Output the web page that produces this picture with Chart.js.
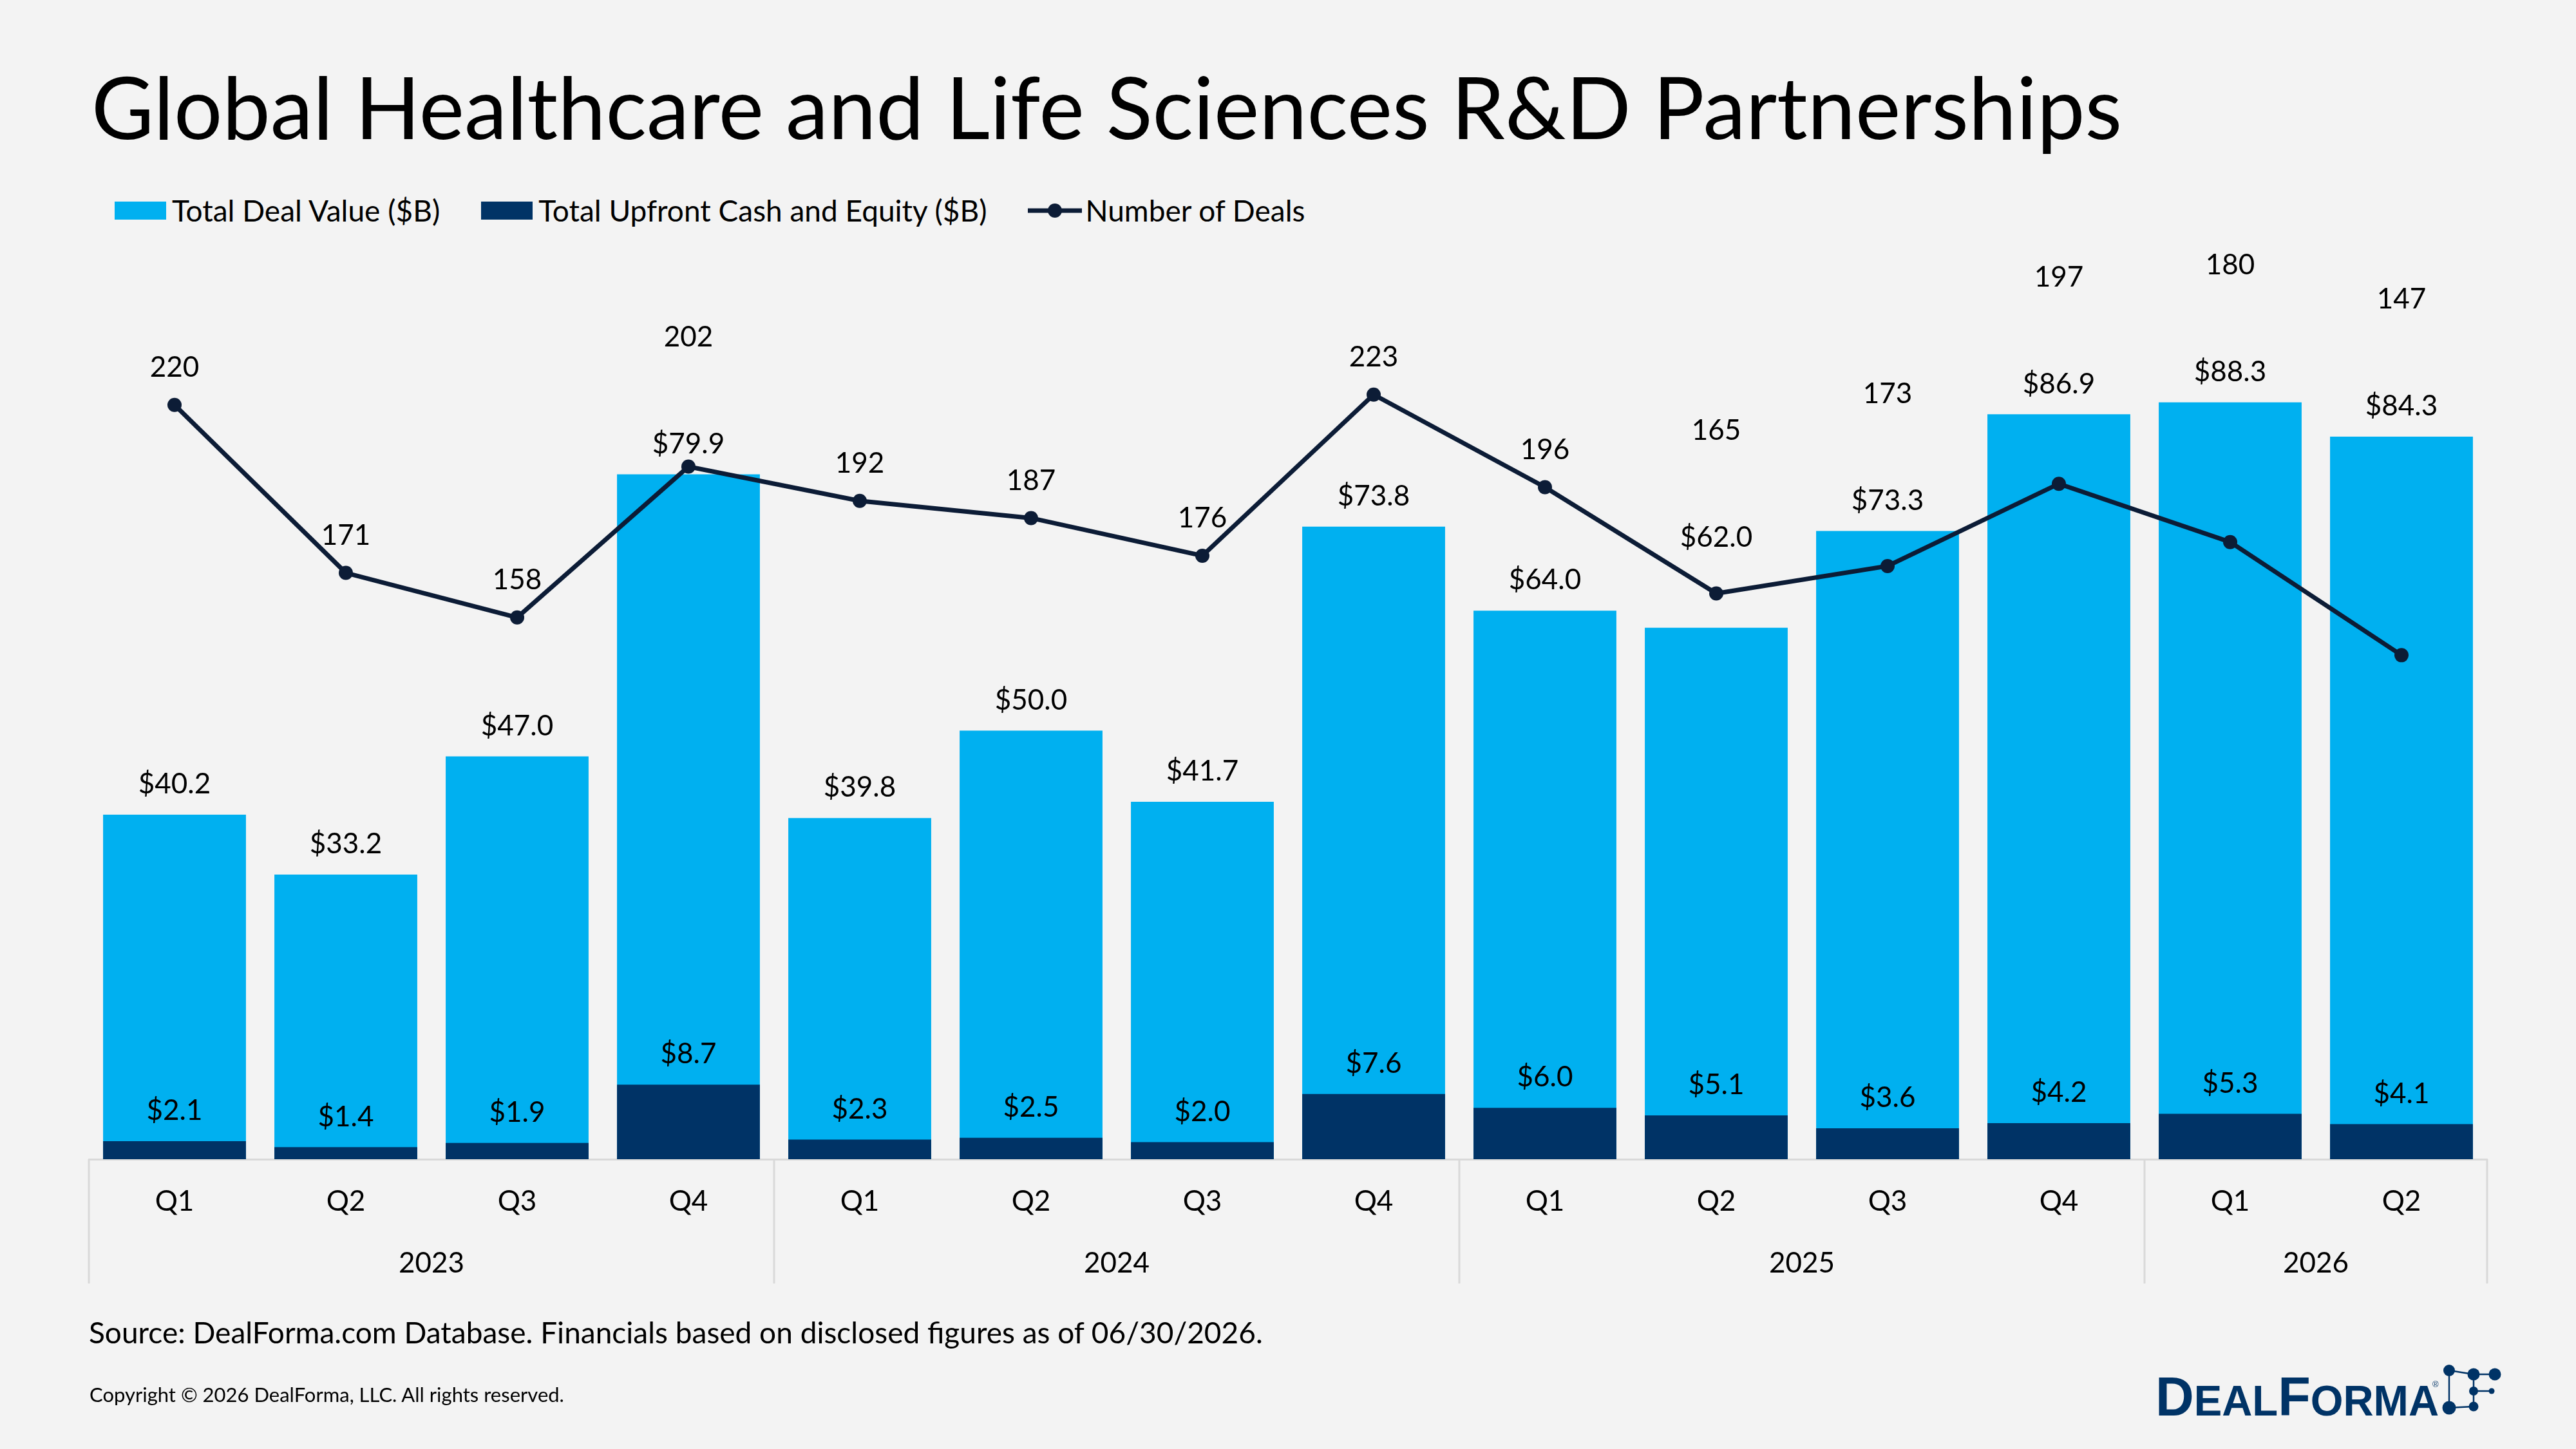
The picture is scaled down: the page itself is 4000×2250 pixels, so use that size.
<!DOCTYPE html>
<html>
<head>
<meta charset="utf-8">
<script src="https://cdn.jsdelivr.net/npm/chart.js@4.4.1/dist/chart.umd.min.js"></script>
<style>
    body{
        margin:0;
        background:#F3F3F3;
        font-family:Lato, "Open Sans", sans-serif;
        color:#000;
    }
    #wrap{
        position:relative;
        width:4000px;
        height:2250px;
        overflow:hidden;
    }
    #chart{
        position:absolute;
        left:0;
        top:0;
    }
    #title{
        position:absolute;
        left:142px;
        top:98px;
        font-size:133px;
        line-height:133px;
        white-space:nowrap;
    }
    #legend{
        position:absolute;
        left:178px;
        top:304px;
        height:46px;
        display:flex;
        align-items:center;
        font-size:46px;
        line-height:46px;
        white-space:nowrap;
    }
    .item{
        display:flex;
        align-items:center;
        margin-right:64px;
    }
    .swatch{
        width:80px;
        height:28px;
        margin-right:9px;
    }
    #source{
        position:absolute;
        left:138px;
        top:2046px;
        font-size:46px;
        line-height:46px;
        white-space:nowrap;
    }
    #copyright{
        position:absolute;
        left:139px;
        top:2150px;
        font-size:31px;
        line-height:31px;
        white-space:nowrap;
    }
    #logo{
        position:absolute;
        left:3330px;
        top:2090px;
    }
</style>
</head>
<body>
<div id="wrap">
    <div id="title">Global Healthcare and Life Sciences R&amp;D Partnerships</div>
    <div id="legend"></div>
    <canvas id="chart" width="4000" height="2250"></canvas>
    <div id="source">Source: DealForma.com Database. Financials based on disclosed figures as of 06/30/2026.</div>
    <div id="copyright">Copyright © 2026 DealForma, LLC. All rights reserved.</div>
    <svg id="logo" width="570" height="130" viewBox="0 0 570 130">
        <text x="17" y="108" fill="#003366" font-family="Liberation Sans, Arial, sans-serif" font-weight="bold" textLength="440" lengthAdjust="spacingAndGlyphs"><tspan font-size="85">D</tspan><tspan font-size="67">EAL</tspan><tspan font-size="85">F</tspan><tspan font-size="67">ORMA</tspan></text>
        <text x="447" y="64" fill="#003366" font-family="Liberation Sans, Arial, sans-serif" font-size="13">®</text>
        <g stroke="#003366" stroke-width="2.5">
            <line x1="473" y1="38" x2="511" y2="44"/>
            <line x1="511" y1="44" x2="544" y2="44"/>
            <line x1="473" y1="38" x2="473" y2="96"/>
            <line x1="511" y1="44" x2="511" y2="94"/>
            <line x1="511" y1="70" x2="539" y2="70"/>
            <line x1="473" y1="96" x2="511" y2="94"/>
        </g>
        <g fill="#003366">
            <circle cx="473" cy="38" r="9"/>
            <circle cx="511" cy="44" r="9.5"/>
            <circle cx="544" cy="44" r="9.5"/>
            <circle cx="511" cy="70" r="7"/>
            <circle cx="539" cy="70" r="4.5"/>
            <circle cx="473" cy="96" r="10.5"/>
            <circle cx="511" cy="94" r="7.5"/>
        </g>
    </svg>
</div>

<script>
// =============================
// DATA
// =============================

const quarterLabels = ["Q1", "Q2", "Q3", "Q4", "Q1", "Q2", "Q3", "Q4", "Q1", "Q2", "Q3", "Q4", "Q1", "Q2"]
const yearLabels = ["2023", "2023", "2023", "2023", "2024", "2024", "2024", "2024", "2025", "2025", "2025", "2025", "2026", "2026"]

// $B
const totalDealValue = [40.2, 33.2, 47.0, 79.9, 39.8, 50.0, 41.7, 73.8, 64.0, 62.0, 73.3, 86.9, 88.3, 84.3]
const upfrontCash = [2.1, 1.4, 1.9, 8.7, 2.3, 2.5, 2.0, 7.6, 6.0, 5.1, 3.6, 4.2, 5.3, 4.1]

const numberOfDeals = [220, 171, 158, 202, 192, 187, 176, 223, 196, 165, 173, 197, 180, 147]

const LIGHT_BLUE = "#00B0F0"
const NAVY = "#003366"
const LINE_COLOR = "#0C1C36"
const LABEL_FONT = "44px Lato, 'Open Sans', sans-serif"


// =============================
// PLUGIN: VALUE LABELS
// =============================

// Bar labels sit above each bar; the deal count sits above its point,
// and is lifted over the bar label when the two would collide.
const valueLabels = {
    id: "valueLabels",
    afterDatasetsDraw(chart){

        const ctx = chart.ctx
        const totalMeta = chart.getDatasetMeta(0)
        const upMeta = chart.getDatasetMeta(1)
        const lineMeta = chart.getDatasetMeta(2)

        ctx.save()
        ctx.font = LABEL_FONT
        ctx.fillStyle = "#000"
        ctx.textAlign = "center"
        ctx.textBaseline = "middle"

        totalMeta.data.forEach((bar, i) => {

            const point = lineMeta.data[i]
            const up = upMeta.data[i]

            let barY = bar.y - 47
            if(Math.abs(barY - point.y) < 30){
                barY = point.y - 87
            }

            let dealY = point.y - 58
            if(dealY > barY - 75){
                dealY = barY - 166
            }

            ctx.fillText("$" + totalDealValue[i].toFixed(1), bar.x, barY)
            ctx.fillText("$" + upfrontCash[i].toFixed(1), up.x, up.y - 47)
            ctx.fillText(String(numberOfDeals[i]), point.x, dealY)
        })

        ctx.restore()
    }
}


// =============================
// PLUGIN: YEAR GROUPS UNDER THE AXIS
// =============================

const yearGroups = {
    id: "yearGroups",
    afterDraw(chart){

        const ctx = chart.ctx
        const x = chart.scales.x
        const top = x.top

        // group consecutive quarters of the same year
        const groups = []
        yearLabels.forEach((year, i) => {
            const last = groups[groups.length - 1]
            if(last && last.year === year){
                last.end = i
            }else{
                groups.push({year: year, start: i, end: i})
            }
        })

        ctx.save()
        ctx.strokeStyle = "#D9D9D9"
        ctx.lineWidth = 3
        ctx.font = LABEL_FONT
        ctx.fillStyle = "#000"
        ctx.textAlign = "center"
        ctx.textBaseline = "middle"

        groups.forEach((g, n) => {

            const left = x.getPixelForValue(g.start - 0.5)
            const right = x.getPixelForValue(g.end + 0.5)

            ctx.beginPath()
            ctx.moveTo(left, top)
            ctx.lineTo(left, top + 193)
            if(n === groups.length - 1){
                ctx.moveTo(right, top)
                ctx.lineTo(right, top + 193)
            }
            ctx.stroke()

            ctx.fillText(g.year, (left + right) / 2, top + 162)
        })

        ctx.restore()
    }
}


// =============================
// CHART
// =============================

const chart = new Chart(document.getElementById("chart").getContext("2d"), {

    type: "bar",

    data: {
        labels: quarterLabels,
        datasets: [
            {
                label: "Total Deal Value ($B)",
                data: totalDealValue,
                backgroundColor: LIGHT_BLUE,
                yAxisID: "y",
                order: 2
            },
            {
                label: "Total Upfront Cash and Equity ($B)",
                data: upfrontCash,
                backgroundColor: NAVY,
                yAxisID: "y",
                order: 1
            },
            {
                type: "line",
                label: "Number of Deals",
                data: numberOfDeals,
                borderColor: LINE_COLOR,
                backgroundColor: LINE_COLOR,
                borderWidth: 7,
                pointRadius: 11,
                pointBackgroundColor: LINE_COLOR,
                pointBorderWidth: 0,
                tension: 0,
                yAxisID: "y2",
                order: 0
            }
        ]
    },

    options: {
        responsive: false,
        animation: false,
        devicePixelRatio: 1,
        layout: {
            padding: {left: 138, right: 138, top: 469, bottom: 250}
        },
        datasets: {
            bar: {
                categoryPercentage: 1,
                barPercentage: 0.834
            }
        },
        plugins: {
            legend: {display: false},
            tooltip: {enabled: false}
        },
        scales: {
            x: {
                stacked: true,
                grid: {display: false, drawTicks: false},
                border: {display: true, color: "#D9D9D9", width: 3},
                ticks: {
                    color: "#000",
                    padding: 39,
                    font: {family: "Lato, 'Open Sans', sans-serif", size: 44}
                },
                afterFit(scale){
                    scale.height = 200
                }
            },
            y: {
                display: false,
                stacked: false,
                min: 0,
                max: 100
            },
            y2: {
                display: false,
                min: 0,
                max: 250
            }
        }
    },

    plugins: [valueLabels, yearGroups]

})


// =============================
// HTML LEGEND
// =============================

const legend = document.getElementById("legend")

chart.data.datasets.forEach(ds => {

    const item = document.createElement("div")
    item.className = "item"

    if(ds.type === "line"){
        item.innerHTML =
            '<svg width="84" height="28" style="margin-right:5px">' +
            '<line x1="0" y1="14" x2="84" y2="14" stroke="' + ds.borderColor + '" stroke-width="7"/>' +
            '<circle cx="42" cy="14" r="11" fill="' + ds.borderColor + '"/></svg>'
    }else{
        item.innerHTML = '<div class="swatch" style="background:' + ds.backgroundColor + '"></div>'
    }

    const text = document.createElement("span")
    text.textContent = ds.label
    item.appendChild(text)

    legend.appendChild(item)

})
</script>
</body>
</html>
